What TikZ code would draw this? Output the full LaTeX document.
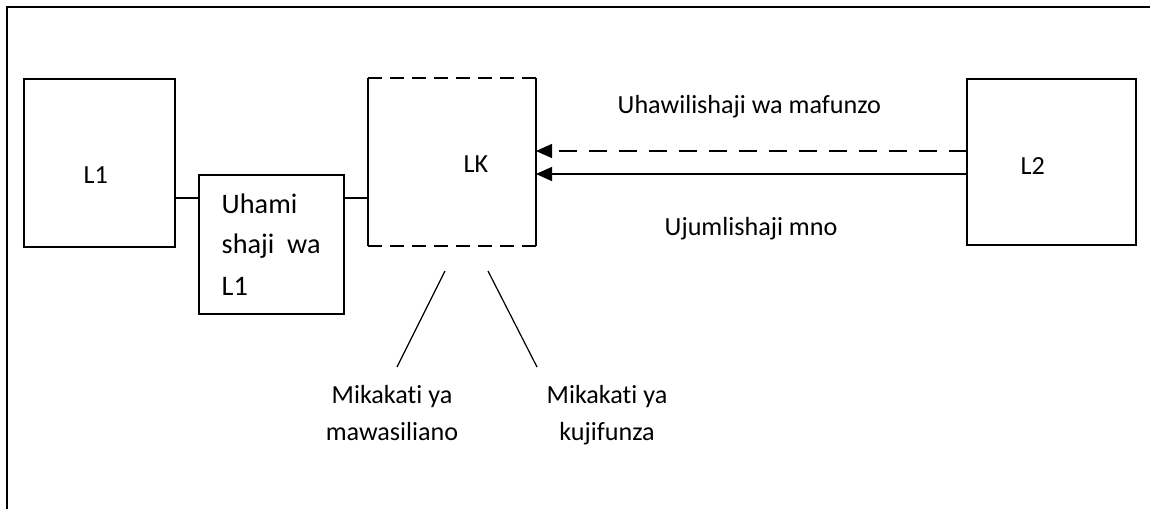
\documentclass[tikz,border=0pt]{standalone}
\usepackage{fontspec}
\setmainfont{Carlito}[RawFeature={-liga}]
\usetikzlibrary{arrows.meta}
\begin{document}
\begin{tikzpicture}[x=0.75pt,y=-0.75pt,
  line width=1.1pt,
  boxnode/.style={draw, inner sep=0pt, outer sep=0pt},
  plainnode/.style={inner sep=0pt, outer sep=0pt},
  lbl/.style={inner sep=0pt, anchor=base west, font=\fontsize{19.6}{24}\selectfont},
  lblc/.style={inner sep=0pt, anchor=base, font=\fontsize{19.6}{24}\selectfont},
  biglbl/.style={inner sep=0pt, anchor=base west, font=\fontsize{21.2}{26}\selectfont},
  dashpat/.style={dash pattern=on 10.5pt off 6pt},
  arrdash/.style={dash pattern=on 13.5pt off 9pt},
  tip/.style={-{Triangle[length=12pt,width=10.5pt]}}
]
\useasboundingbox (0,0) rectangle (1150,508);
% outer frame (top and left edges)
\coordinate (ftl) at (7,7);
\coordinate (ftr) at (1152,7);
\coordinate (fbl) at (7,510);
\draw (ftr) -- (ftl) -- (fbl);

% boxes
\node[boxnode, minimum width=113.25pt, minimum height=126pt] (l1) at (99.5,163) {};
\node[boxnode, minimum width=108.75pt, minimum height=104.25pt] (uh) at (271.5,244.5) {};
\node[plainnode, minimum width=126pt, minimum height=126pt] (lk) at (452,162) {};
\node[boxnode, minimum width=126.75pt, minimum height=124.5pt] (l2) at (1051.5,162) {};

% LK box: solid sides, dashed top and bottom
\draw (lk.north west) -- (lk.south west);
\draw (lk.north east) -- (lk.south east);
\draw[dashpat] (lk.north west) -- (lk.north east);
\draw[dashpat] (lk.south west) -- (lk.south east);

% labels
\node[lbl] (tl1) at (83,183) {L1};
\node[lbl] (tlk) at (463,172) {LK};
\node[lbl] (tl2) at (1020,174) {L2};
\node[biglbl] (tuh1) at (221,213) {Uhami};
\node[biglbl] (tuh2) at (221,253) {shaji\ \ wa};
\node[biglbl] (tuh3) at (221,295) {L1};
\node[lbl] (tuhaw) at (617,113) {Uhawilishaji wa mafunzo};
\node[lbl] (tujum) at (664,235) {Ujumlishaji mno};
\node[lblc] (tm1a) at (392,403) {Mikakati ya};
\node[lblc] (tm1b) at (392,440) {mawasiliano};
\node[lblc] (tm2a) at (607,403) {Mikakati ya};
\node[lblc] (tm2b) at (607,440) {kujifunza};

% connectors
\draw (l1.east |- 0,198) -- (uh.west |- 0,198);
\draw (uh.east |- 0,198) -- (lk.west |- 0,198);
\draw[tip, arrdash] (l2.west |- 0,151) -- (lk.east |- 0,151);
\draw[tip] (l2.west |- 0,174) -- (lk.east |- 0,174);

% diagonal strokes
\coordinate (d1a) at (445,271);
\coordinate (d1b) at (397,367);
\coordinate (d2a) at (488,271);
\coordinate (d2b) at (537,367);
\draw[line width=0.9pt] (d1a) -- (d1b);
\draw[line width=0.9pt] (d2a) -- (d2b);
\end{tikzpicture}
\end{document}
